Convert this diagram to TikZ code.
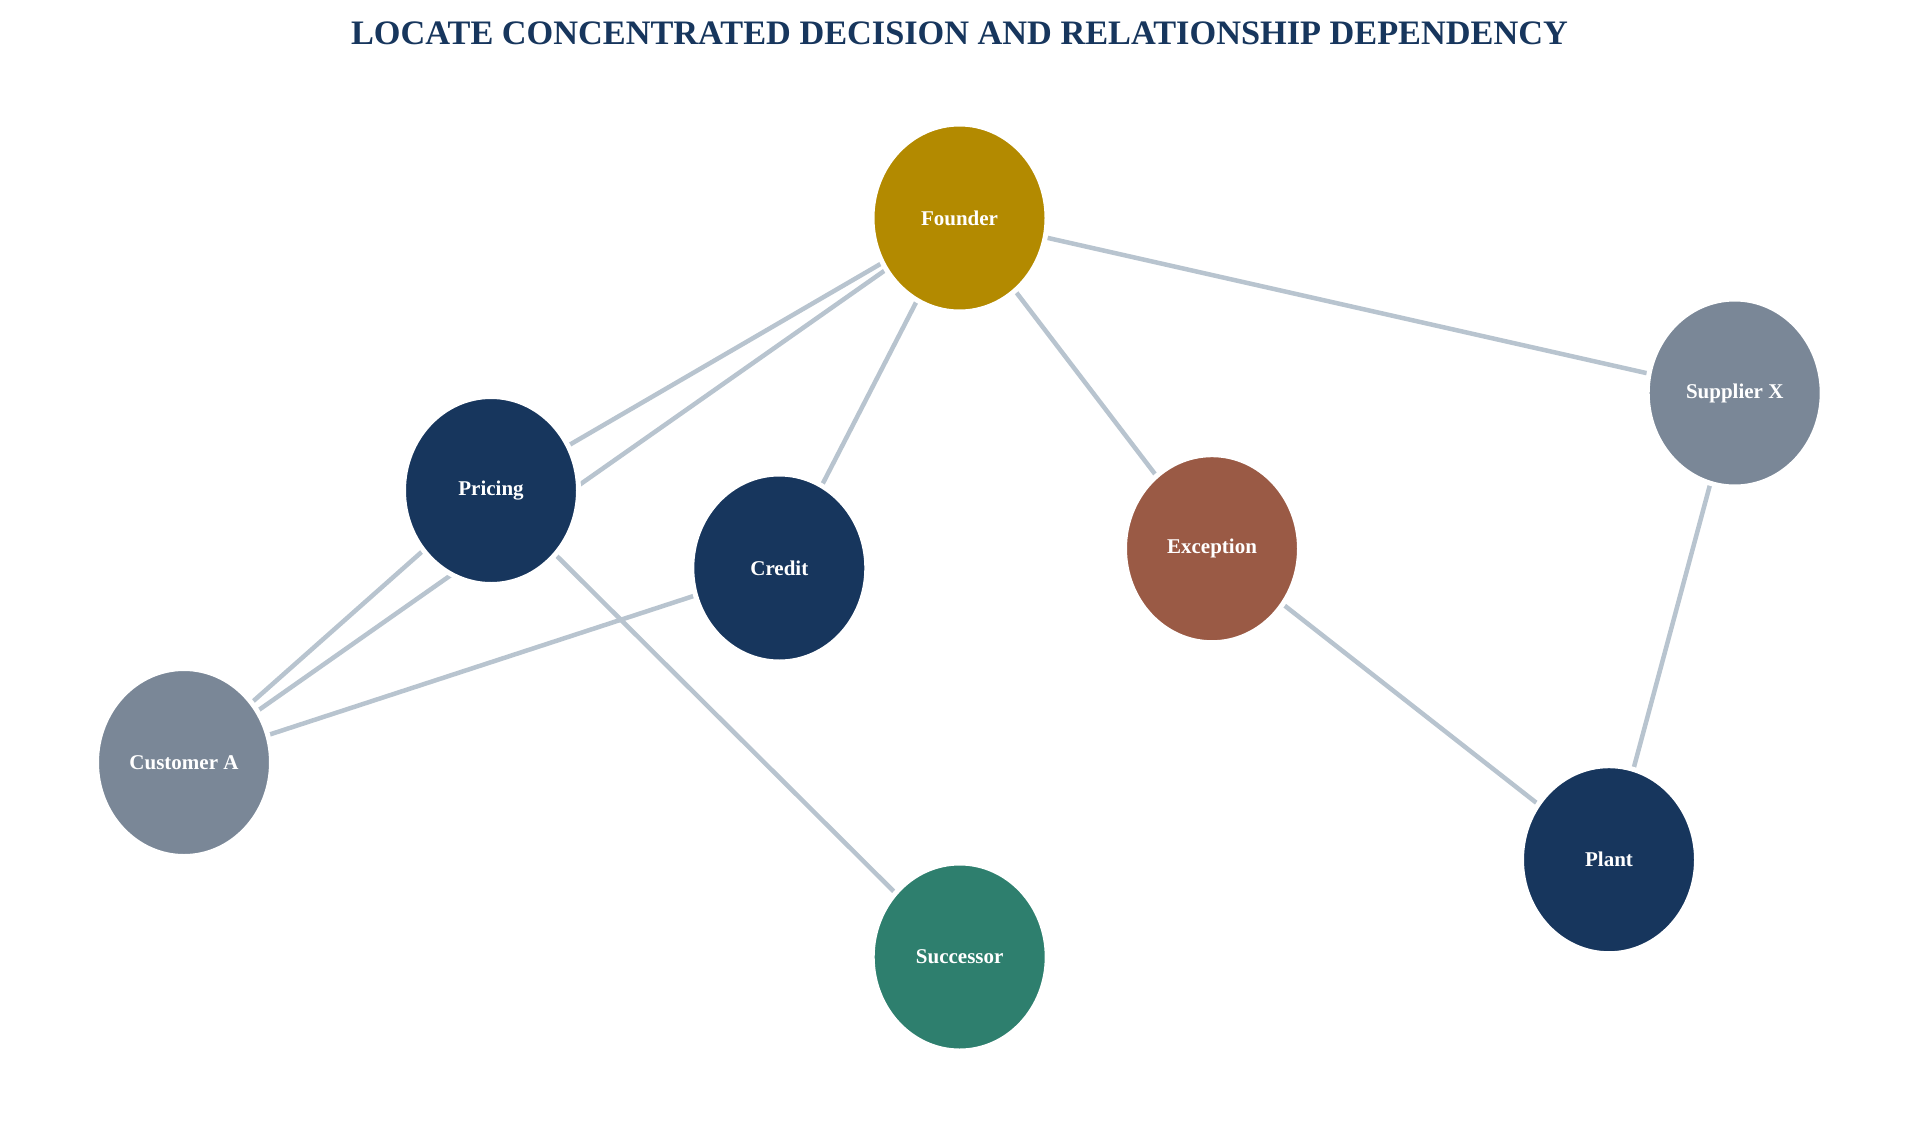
\documentclass[tikz,border=0pt]{standalone}
\usepackage{fontspec}
\setmainfont{Liberation Serif}
\usetikzlibrary{shapes.geometric,backgrounds}
\definecolor{navy}{HTML}{17365D}
\definecolor{gold}{HTML}{B38A00}
\definecolor{slate}{HTML}{7A8797}
\definecolor{rust}{HTML}{9A5A45}
\definecolor{teal}{HTML}{2E7F6E}
\definecolor{edgec}{HTML}{B8C4CF}
\tikzset{
  ent/.style={ellipse, minimum width=175pt, minimum height=188pt, inner sep=0pt,
    draw=white, line width=5pt, text=white,
    font=\fontsize{21}{25}\selectfont\bfseries},
  link/.style={draw=edgec, line width=4.5pt}
}
\begin{document}
\begin{tikzpicture}[x=1pt,y=-1pt]
\useasboundingbox (0,0) rectangle (1919,1135);
\node[font=\fontsize{34.3}{40}\selectfont\bfseries, text=navy] (title) at (959.5,33) {LOCATE CONCENTRATED DECISION AND RELATIONSHIP DEPENDENCY};
\node[ent, fill=gold] (founder) at (959.5,218) {Founder};
\node[ent, fill=navy] (pricing) at (491,490.5) {Pricing};
\node[ent, fill=slate] (customer) at (184,762.5) {Customer A};
\node[ent, fill=navy] (credit) at (779.3,568) {Credit};
\node[ent, fill=rust] (exception) at (1212,548.7) {Exception};
\node[ent, fill=slate] (supplier) at (1734.7,393) {Supplier X};
\node[ent, fill=navy] (plant) at (1609,859.7) {Plant};
\node[ent, fill=teal] (successor) at (959.7,957) {Successor};
\begin{scope}[on background layer]
\fill[white] (0,0) rectangle (1919,1135);
\draw[link] (founder.center) -- (pricing.center);
\draw[link] (founder.center) -- (customer.center);
\draw[link] (founder.center) -- (credit.center);
\draw[link] (founder.center) -- (exception.center);
\draw[link] (founder.center) -- (supplier.center);
\draw[link] (pricing.center) -- (customer.center);
\draw[link] (credit.center) -- (customer.center);
\draw[link] (pricing.center) -- (successor.center);
\draw[link] (exception.center) -- (plant.center);
\draw[link] (supplier.center) -- (plant.center);
\end{scope}
\end{tikzpicture}
\end{document}
